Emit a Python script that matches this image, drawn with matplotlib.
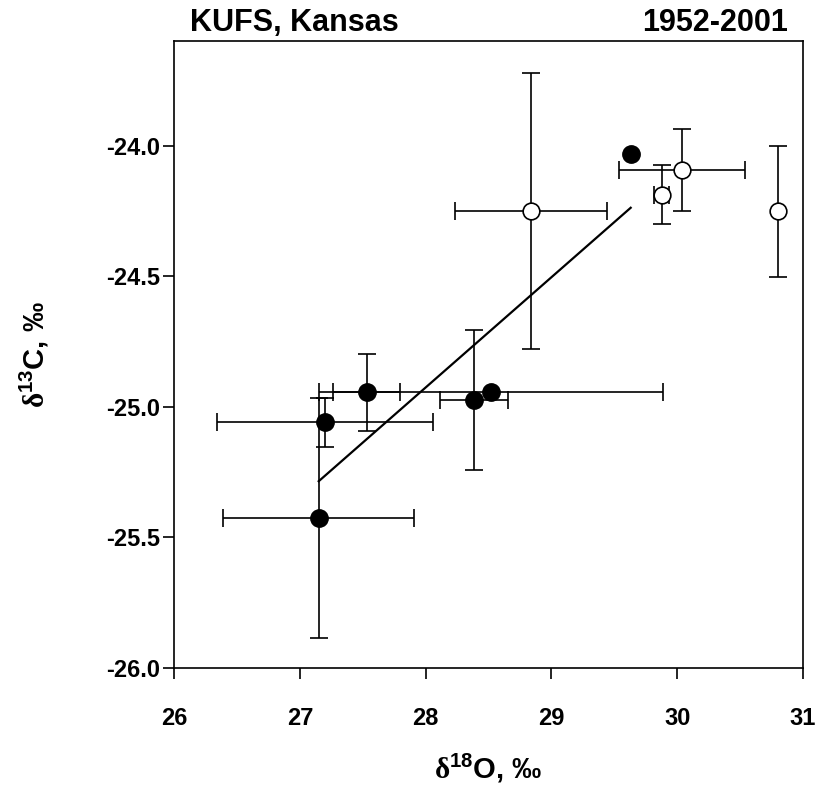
import matplotlib
matplotlib.use("Agg")
import matplotlib.pyplot as plt
import numpy as np

plt.rcParams["font.family"] = ["Liberation Sans", "DejaVu Sans"]
plt.rcParams["font.weight"] = "bold"
plt.rcParams["mathtext.fontset"] = "custom"
plt.rcParams["mathtext.rm"] = "Liberation Serif"
plt.rcParams["mathtext.bf"] = "Liberation Sans:bold"

# filled circles (used for the regression)
filled_x = [27.53, 27.20, 27.15, 28.385, 28.52, 29.63]
filled_y = [-24.945, -25.06, -25.425, -24.973, -24.945, -24.034]
filled_xerr = [0.27, 0.86, 0.76, 0.273, 1.365, 0.0]
filled_yerr = [0.147, 0.095, 0.46, 0.268, 0.0, 0.0]

# open circles
open_x = [28.838, 30.04, 29.876, 30.804]
open_y = [-24.252, -24.092, -24.188, -24.252]
open_xerr = [0.606, 0.5, 0.061, 0.0]
open_yerr = [0.528, 0.157, 0.112, 0.252]

x_ticks = [26, 27, 28, 29, 30, 31]
y_ticks = [-26.0, -25.5, -25.0, -24.5, -24.0]

fig = plt.figure(figsize=(8.19, 7.95), dpi=100)
ax = fig.add_axes([0.2125, 0.1597, 0.768, 0.7887])

err_kw = dict(fmt="none", ecolor="black", elinewidth=1.2, capsize=6.5, capthick=1.2, zorder=2)


def draw_errors(xs, ys, xe, ye):
    for x, y, dx, dy in zip(xs, ys, xe, ye):
        if dx > 0:
            ax.errorbar(x, y, xerr=dx, **err_kw)
        if dy > 0:
            ax.errorbar(x, y, yerr=dy, **err_kw)


draw_errors(filled_x, filled_y, filled_xerr, filled_yerr)
draw_errors(open_x, open_y, open_xerr, open_yerr)

# regression through the filled points
fx = np.array(filled_x)
fy = np.array(filled_y)
slope, intercept = np.polyfit(fx, fy, 1)
line_x = np.array([fx.min(), fx.max()])
ax.plot(line_x, slope * line_x + intercept, color="black", linewidth=1.6, zorder=3)

ax.plot(filled_x, filled_y, "o", color="black", markersize=12.5, zorder=4)
ax.plot(open_x, open_y, "o", markerfacecolor="white", markeredgecolor="black",
        markeredgewidth=1.2, markersize=12, zorder=4)

ax.set_xlim(26, 31)
ax.set_ylim(-26.0, -23.6)
ax.set_xticks(x_ticks)
ax.set_xticklabels([str(v) for v in x_ticks])
ax.set_yticks(y_ticks)
ax.set_yticklabels([f"{v:.1f}" for v in y_ticks])
ax.tick_params(direction="out", length=8, width=1.2, labelsize=17)
ax.tick_params(axis="y", pad=2)
ax.tick_params(axis="x", pad=20)
for s in ax.spines.values():
    s.set_linewidth(1.2)

ax.set_xlabel(r"$\mathrm{\delta}^{\mathbf{18}}$O, ‰", fontsize=21, fontweight="bold", labelpad=16)
ax.set_ylabel(r"$\mathrm{\delta}^{\mathbf{13}}$C, ‰", fontsize=21, fontweight="bold", labelpad=40)

ax.text(0.025, 1.005, "KUFS, Kansas", transform=ax.transAxes, ha="left", va="bottom",
        fontsize=22, fontweight="bold")
ax.text(0.976, 1.005, "1952-2001", transform=ax.transAxes, ha="right", va="bottom",
        fontsize=22, fontweight="bold")

fig.savefig("out.png", dpi=100)
plt.close(fig)
